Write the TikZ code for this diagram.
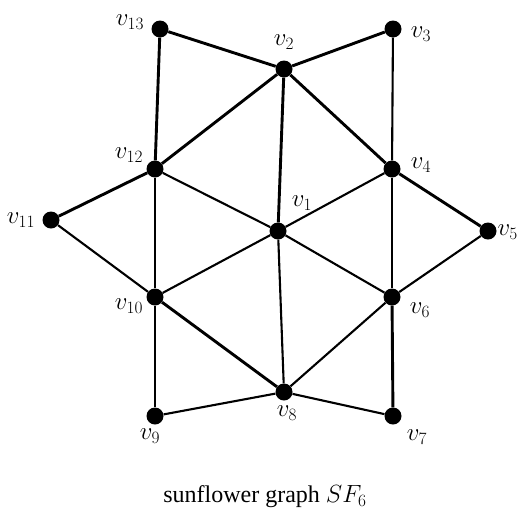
\documentclass[tikz,border=0pt]{standalone}
\usepackage{amsmath}
\usepackage{fontspec}
\setmainfont{Liberation Serif}
\usepackage{tikz}
\usetikzlibrary{positioning}
\tikzset{
  sfvertex/.style={circle,fill=black,inner sep=0pt,minimum size=17pt},
  sfname/.style={font=\fontsize{27}{30}\selectfont,inner sep=0pt},
  sfheavy/.style={line width=2.9pt},
  sflight/.style={line width=2.1pt},
  sfcaption/.style={font=\fontsize{24}{28}\selectfont}
}
\begin{document}
\begin{tikzpicture}[x=1pt,y=-1pt]
  \useasboundingbox (0,0) rectangle (519,523);

  \node[sfvertex] (v1) at (278,231) {};
  \node[sfvertex] (v2) at (284,69) {};
  \node[sfvertex] (v3) at (393,29) {};
  \node[sfvertex] (v4) at (392,169) {};
  \node[sfvertex] (v5) at (488,231) {};
  \node[sfvertex] (v6) at (392,297) {};
  \node[sfvertex] (v7) at (393,416) {};
  \node[sfvertex] (v8) at (284,392) {};
  \node[sfvertex] (v9) at (155,416) {};
  \node[sfvertex] (v10) at (155,297) {};
  \node[sfvertex] (v11) at (51,220) {};
  \node[sfvertex] (v12) at (155,169) {};
  \node[sfvertex] (v13) at (160,29) {};

  \node[sfname] (n1) at (302,203) {$v_1$};
  \node[sfname] (n2) at (284,42) {$v_2$};
  \node[sfname] (n3) at (421,34) {$v_3$};
  \node[sfname] (n4) at (421,165) {$v_4$};
  \node[sfname,anchor=east] (n5) at (518,232) {$v_5$};
  \node[sfname] (n6) at (420,310) {$v_6$};
  \node[sfname] (n7) at (417,437) {$v_7$};
  \node[sfname] (n8) at (287,413) {$v_8$};
  \node[sfname] (n9) at (150,436) {$v_9$};
  \node[sfname] (n10) at (129,306) {$v_{10}$};
  \node[sfname] (n11) at (21,220) {$v_{11}$};
  \node[sfname] (n12) at (129,155) {$v_{12}$};
  \node[sfname] (n13) at (130,22) {$v_{13}$};

  \draw[sfheavy] (v13) -- (v2);
  \draw[sfheavy] (v2) -- (v3);
  \draw[sfheavy] (v13) -- (v12);
  \draw[sfheavy] (v2) -- (v12);
  \draw[sfheavy] (v2) -- (v4);
  \draw[sfheavy] (v2) -- (v1);
  \draw[sfheavy] (v12) -- (v11);
  \draw[sfheavy] (v12) -- (v10);
  \draw[sfheavy] (v4) -- (v5);
  \draw[sfheavy] (v4) -- (v6);
  \draw[sfheavy] (v6) -- (v7);
  \draw[sfheavy] (v10) -- (v8);
  \draw[sfheavy] (v10) -- (v9);
  \draw[sflight] (v3) -- (v4);
  \draw[sflight] (v12) -- (v1);
  \draw[sflight] (v4) -- (v1);
  \draw[sflight] (v11) -- (v10);
  \draw[sflight] (v1) -- (v10);
  \draw[sflight] (v1) -- (v6);
  \draw[sflight] (v1) -- (v8);
  \draw[sflight] (v6) -- (v8);
  \draw[sflight] (v5) -- (v6);
  \draw[sflight] (v9) -- (v8);
  \draw[sflight] (v8) -- (v7);

  \node[sfcaption] (caption) at (265,497) {sunflower graph $SF_6$};
\end{tikzpicture}
\end{document}
